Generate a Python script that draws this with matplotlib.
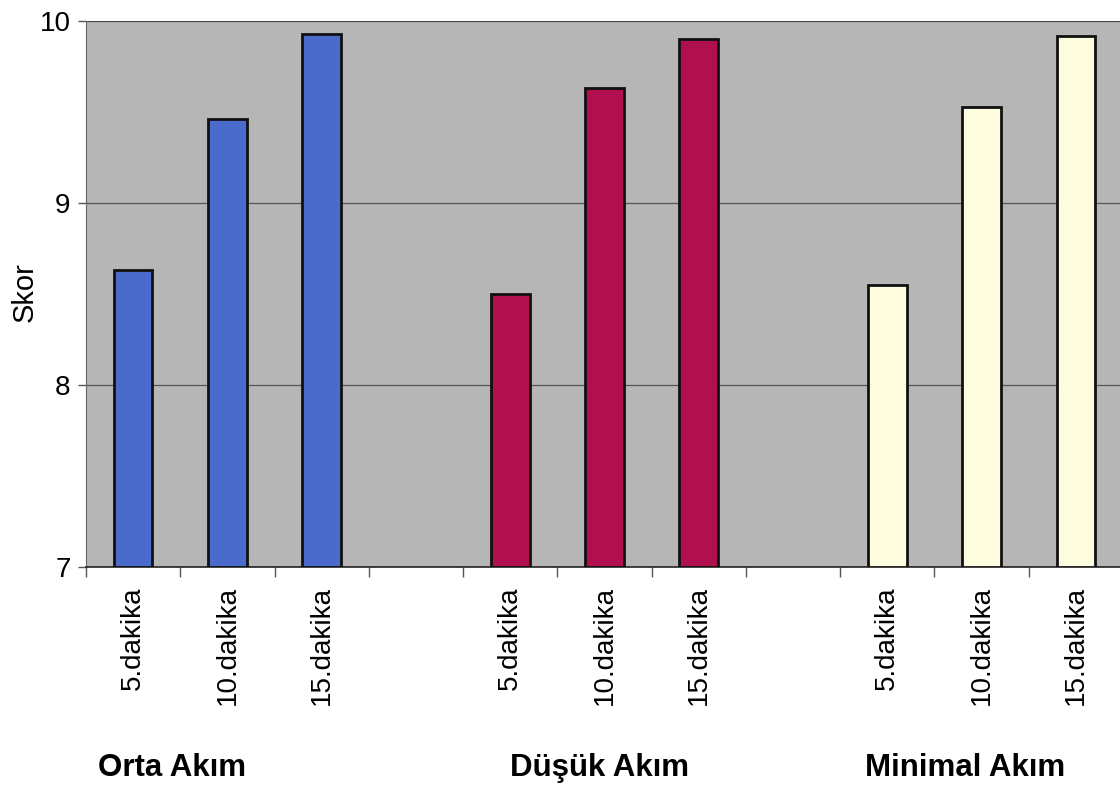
import matplotlib
matplotlib.use("Agg")
import matplotlib.pyplot as plt
from matplotlib.ticker import FixedLocator

plt.rcParams['font.family'] = ['Liberation Sans', 'DejaVu Sans']

groups = ["Orta Akım", "Düşük Akım", "Minimal Akım"]
times = ["5.dakika", "10.dakika", "15.dakika"]
orta = [8.63, 9.46, 9.93]
dusuk = [8.50, 9.63, 9.90]
minimal = [8.55, 9.53, 9.92]
colors = ["#4a6bcc", "#b0104e", "#fdfcde"]
yticks = [7, 8, 9, 10]

fig = plt.figure(figsize=(11.2, 7.85), dpi=100)
# axes spans 11 category slots (3 groups of 3 bars with one empty slot between groups)
ax_left = 86 / 1120
ax_right = 1123 / 1120
ax_bottom = 1 - 567 / 785
ax_top = 1 - 21 / 785
ax = fig.add_axes([ax_left, ax_bottom, ax_right - ax_left, ax_top - ax_bottom])
ax.set_facecolor("#b6b6b6")

series = [orta, dusuk, minimal]
positions = []
labels = []
for gi, (vals, col) in enumerate(zip(series, colors)):
    xs = [gi * 4 + k for k in range(3)]
    ax.bar(xs, [v - 7 for v in vals], bottom=7, width=0.41, color=col,
           edgecolor="#111111", linewidth=2, zorder=3)
    positions += xs
    labels += times

ax.set_xlim(-0.5, 10.5)
ax.set_ylim(7, 10)
ax.set_yticks(yticks)
ax.set_yticklabels([str(t) for t in yticks], fontsize=20)
ax.set_xticks(positions)
ax.set_xticklabels(labels, rotation=90, fontsize=20)
ax.xaxis.set_minor_locator(FixedLocator([i + 0.5 for i in range(-1, 11)]))
ax.tick_params(axis="x", which="major", length=0, pad=14)
ax.tick_params(axis="x", which="minor", length=7, width=1, color="#555555")
ax.tick_params(axis="y", length=6, width=1, color="#555555", pad=5)

ax.grid(axis="y", color="#555555", linewidth=0.9, zorder=1)
ax.set_axisbelow(True)
for s in ["top", "right"]:
    ax.spines[s].set_visible(False)
ax.spines["left"].set_color("#666666")
ax.spines["bottom"].set_color("#222222")
ax.spines["bottom"].set_linewidth(1.2)
ax.axhline(10, color="#444444", linewidth=1.2, zorder=2)

fig.text(25 / 1120, 1 - 292 / 785, "Skor", fontsize=21, rotation=90,
         ha="center", va="center")

group_x = [172, 600, 965]
for gx, name in zip(group_x, groups):
    fig.text(gx / 1120, 1 - 768 / 785, name, fontsize=22.5, fontweight="bold",
             ha="center", va="center")

fig.savefig("out.png", dpi=100)
